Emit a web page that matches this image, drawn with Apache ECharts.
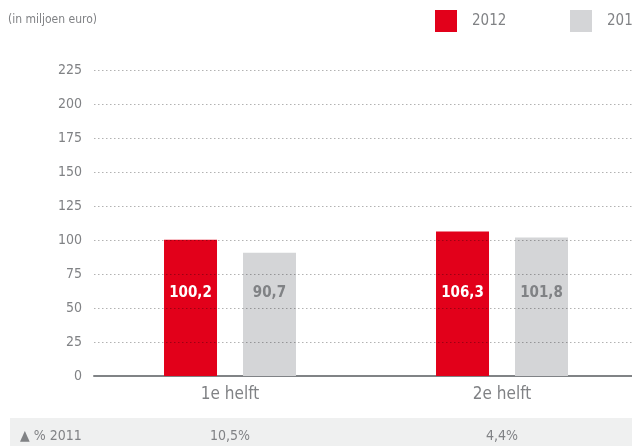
<!DOCTYPE html>
<html><head><meta charset="utf-8">
<script src="https://cdn.jsdelivr.net/npm/echarts@6/dist/echarts.min.js"></script>
<style>html,body{margin:0;padding:0;background:#fff;overflow:hidden}#c{width:640px;height:446px}</style>
</head><body><div id="c"></div>
<script>
const categories = ['1e helft', '2e helft'];
const values2012 = [100.2, 106.3];
const values2011 = [90.7, 101.8];
const pctVs2011 = ['10,5%', '4,4%'];
const pctRowLabel = '▲ % 2011';
const unitLabel = '(in miljoen euro)';
const seriesNames = ['2012', '2011'];
const yGridTicks = [25, 50, 75, 100, 125, 150, 175, 200, 225];

const FONT = '"Liberation Sans Narrow", "DejaVu Sans Condensed", "Roboto Condensed", sans-serif';
const TXT = '#808285';
const chart = echarts.init(document.getElementById('c'), null, {renderer: 'canvas'});
const fmt = p => p.value.toFixed(1).replace('.', ',');
const legendText = {fontFamily: FONT, fontSize: 15, color: TXT, padding: [0, 0, 0, 10]};
chart.setOption({
  animation: false,
  textStyle: {fontFamily: FONT},
  grid: {left: 94, top: 70, width: 544, bottom: 70, containLabel: false},
  legend: [
    {left: 435, top: 10, padding: 0, itemWidth: 22, itemHeight: 22, icon: 'rect',
     data: [seriesNames[0]], textStyle: legendText},
    {left: 570, top: 10, padding: 0, itemWidth: 22, itemHeight: 22, icon: 'rect',
     data: [seriesNames[1]], textStyle: legendText}
  ],
  xAxis: {
    type: 'category', data: categories,
    axisLine: {lineStyle: {color: '#808386', width: 2}},
    axisTick: {show: false},
    axisLabel: {fontFamily: FONT, fontSize: 17, color: TXT, margin: 10}
  },
  yAxis: {
    type: 'value', min: 0, max: 225, interval: 25,
    axisLine: {show: false}, axisTick: {show: false},
    axisLabel: {fontFamily: FONT, fontSize: 14, color: TXT, margin: 12},
    splitLine: {show: false}
  },
  series: [
    {name: seriesNames[0], type: 'bar', data: values2012, barWidth: 53, barGap: '49%',
     itemStyle: {color: '#e2001a'},
     label: {show: true, position: 'insideBottom', distance: 75, formatter: fmt,
             fontFamily: FONT, fontSize: 15, fontWeight: 'bold', color: '#ffffff'},
     markLine: {
       silent: true, symbol: 'none', z: 10, animation: false,
       label: {show: false},
       lineStyle: {color: 'rgba(0,0,0,0.3)', type: [1.5, 2.5], width: 1},
       emphasis: {disabled: true},
       data: yGridTicks.map(v => ({yAxis: v}))
     }},
    {name: seriesNames[1], type: 'bar', data: values2011, barWidth: 53,
     itemStyle: {color: '#d4d5d7'},
     label: {show: true, position: 'insideBottom', distance: 75, formatter: fmt,
             fontFamily: FONT, fontSize: 15, fontWeight: 'bold', color: '#808285'}}
  ]
});
const g = [
  {type: 'text', left: 8, top: 14, style: {text: unitLabel, font: '12px ' + FONT, fill: TXT}},
  {type: 'rect', shape: {x: 10, y: 418, width: 630, height: 28}, style: {fill: '#eff0f0'}, z: -1},
  {type: 'text', x: 20, y: 436, style: {text: pctRowLabel, font: '14px ' + FONT, fill: TXT, textVerticalAlign: 'middle'}}
];
categories.forEach((c, i) => {
  const px = chart.convertToPixel({xAxisIndex: 0}, c);
  g.push({type: 'text', x: px, y: 436, style: {text: pctVs2011[i], font: '14px ' + FONT, fill: TXT, textAlign: 'center', textVerticalAlign: 'middle'}});
});
chart.setOption({graphic: g});
</script></body></html>
